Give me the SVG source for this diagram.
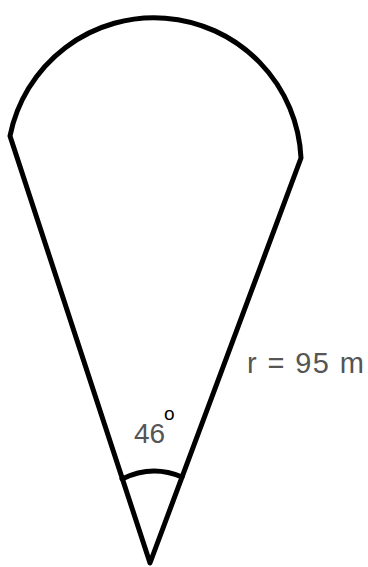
<svg xmlns="http://www.w3.org/2000/svg" width="368" height="567" viewBox="0 0 368 567">
<style>
.s{fill:none;stroke:#000;stroke-width:5;stroke-linejoin:round;stroke-linecap:round}
.t{font-family:"Liberation Sans",Arial,sans-serif;fill:#555}
</style>
<rect width="368" height="567" fill="#fff"/>
<g id="sector">
<path class="s" d="M150,563 L10,136 A147,147 0 0 1 301,158 Z"/>
</g>
<g id="angle">
<path class="s" d="M122,479 Q152,464 182,477"/>
<text class="t" x="134" y="443" font-size="28">46</text>
<text x="164" y="420" font-size="19" font-family="Liberation Sans,Arial,sans-serif" fill="#000">o</text>
</g>
<g id="radius">
<text class="t" x="247" y="373" font-size="29" textLength="117" lengthAdjust="spacing">r = 95 m</text>
</g>
</svg>
